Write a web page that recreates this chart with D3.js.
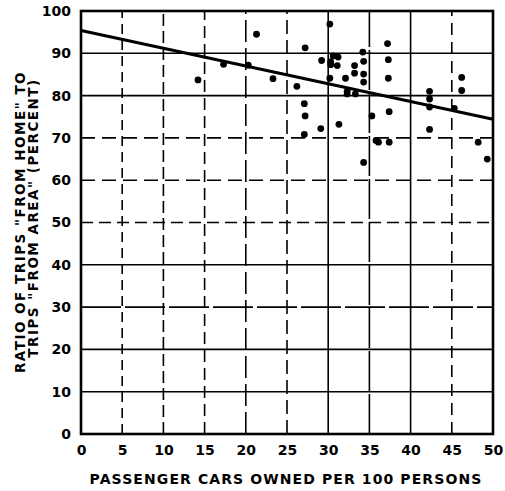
<!DOCTYPE html>
<html><head><meta charset="utf-8">
<script src="https://cdn.jsdelivr.net/npm/d3@7"></script>
<style>
body{margin:0;background:#fff;}
svg text{font-family:"DejaVu Sans",sans-serif;font-weight:bold;fill:#000;}
</style></head>
<body><svg id="c" width="505" height="491"></svg>
<script>
const carsOwned = [14.2,17.3,20.3,21.3,23.3,26.2,27.2,27.1,27.2,27.1,29.2,29.1,30.2,30.6,31.2,30.3,30.3,31.1,30.2,31.3,32.1,32.3,32.3,33.3,33.2,33.2,34.2,34.3,34.3,34.3,34.3,35.3,35.8,36.1,37.2,37.3,37.3,37.4,37.4,42.3,42.3,42.3,42.3,45.3,46.2,46.2,48.2,49.3];
const tripRatio = [83.7,87.4,87.2,94.5,84.0,82.2,91.3,78.1,75.2,70.8,88.3,72.2,96.9,89.4,89.1,88.0,87.3,87.1,84.1,73.2,84.1,81.0,80.4,80.4,87.1,85.3,90.3,88.1,85.1,83.2,64.2,75.2,69.4,69.0,92.3,88.5,84.1,76.2,69.0,81.0,79.2,77.3,72.0,77.0,84.3,81.2,69.0,65.0];
const trendX = [0, 50];
const trendY = [95.4, 74.4];
const xTicks = [0,5,10,15,20,25,30,35,40,45,50];
const yTicks = [0,10,20,30,40,50,60,70,80,90,100];
const xTitle = "PASSENGER CARS OWNED PER 100 PERSONS";
const yTitle1 = "RATIO OF TRIPS \"FROM HOME\" TO";
const yTitle2 = "TRIPS \"FROM AREA\" (PERCENT)";

const svg = d3.select("#c");
const m = {l:81, r:12, t:11, b:57};
const W = 505, H = 491;
const x = d3.scaleLinear().domain([0,50]).range([m.l, W-m.r]);
const y = d3.scaleLinear().domain([0,100]).range([H-m.b, m.t]);

// grid line styles (dash patterns per line)
const vDash = {5:"10,6",10:"12,5",15:"12,6",20:"22,6",25:"14,6",30:null,35:"40,3",40:null,45:"12,7"};
const hDash = {10:null,20:null,30:"40,4",40:null,50:"12,6",60:"14,7",70:"14,7",80:null,90:null};
const g = svg.append("g");
g.selectAll("line.v").data(xTicks.filter(d=>d>0&&d<50)).join("line")
  .attr("x1",d=>x(d)).attr("x2",d=>x(d)).attr("y1",y(0)).attr("y2",y(100))
  .attr("stroke","#000").attr("stroke-width",1.6)
  .attr("stroke-dasharray",d=>vDash[d]);
g.selectAll("line.h").data(yTicks.filter(d=>d>0&&d<100)).join("line")
  .attr("y1",d=>y(d)).attr("y2",d=>y(d)).attr("x1",x(0)).attr("x2",x(50))
  .attr("stroke","#000").attr("stroke-width",1.6)
  .attr("stroke-dasharray",d=>hDash[d]);

// frame
svg.append("rect").attr("x",x(0)).attr("y",y(100)).attr("width",x(50)-x(0)).attr("height",y(0)-y(100))
  .attr("fill","none").attr("stroke","#000").attr("stroke-width",2.6);

// axes labels
const xa = svg.append("g").attr("transform",`translate(0,${y(0)})`)
  .call(d3.axisBottom(x).tickValues(xTicks).tickSize(0).tickPadding(11).tickFormat(d3.format("d")));
xa.select(".domain").remove();
xa.selectAll("text").style("font-size","14px");
const ya = svg.append("g").attr("transform",`translate(${x(0)},0)`)
  .call(d3.axisLeft(y).tickValues(yTicks).tickSize(0).tickPadding(10).tickFormat(d3.format("d")));
ya.select(".domain").remove();
ya.selectAll("text").style("font-size","14px");

// trend line
svg.append("line").attr("x1",x(trendX[0])).attr("y1",y(trendY[0])).attr("x2",x(trendX[1])).attr("y2",y(trendY[1]))
  .attr("stroke","#000").attr("stroke-width",3.2);

// points
svg.append("g").selectAll("circle").data(carsOwned.map((d,i)=>[d,tripRatio[i]])).join("circle")
  .attr("cx",d=>x(d[0])).attr("cy",d=>y(d[1])).attr("r",3.4).attr("fill","#000");

// titles
svg.append("text").attr("x",(x(0)+x(50))/2-1).attr("y",484).attr("text-anchor","middle")
  .style("font-size","14px").style("letter-spacing","1.1px").text(xTitle);
svg.append("text").attr("transform","translate(25,222) rotate(-90)").attr("text-anchor","middle")
  .style("font-size","13.5px").style("letter-spacing","1.5px").text(yTitle1);
svg.append("text").attr("transform","translate(38,218) rotate(-90)").attr("text-anchor","middle")
  .style("font-size","13.5px").style("letter-spacing","1.5px").text(yTitle2);
</script></body></html>
